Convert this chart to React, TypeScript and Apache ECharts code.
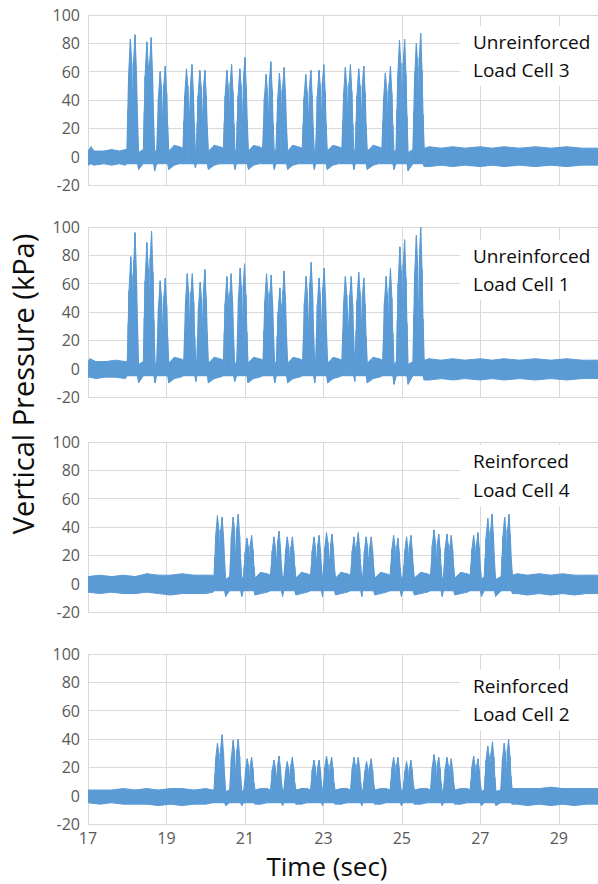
import React, { useEffect, useRef } from "react";
import * as echarts from "echarts";

// ---------- data ----------
const xTickValues = [17, 19, 21, 23, 25, 27, 29];
const xMin = 17;
const xMax = 30;
const yMin = -20;
const yMax = 100;
const yStep = 20;

const xTitle = "Time (sec)";
const yTitle = "Vertical Pressure (kPa)";

const panelTitles = [
  ["Unreinforced", "Load Cell 3"],
  ["Unreinforced", "Load Cell 1"],
  ["Reinforced", "Load Cell 4"],
  ["Reinforced", "Load Cell 2"],
];

// rows: [time (s), lower envelope (kPa), upper envelope (kPa)]
const cell3: number[][] = [
  [17.0, -6, 4], [17.08, -5, 7], [17.15, -6, 4], [17.4, -5, 4], [17.6, -6, 5], [17.8, -5, 4], [17.95, -6, 5],
  [17.99, -5, 5], [18.015, -5, 33], [18.035, -5, 58], [18.08, -5, 83], [18.115, -5, 66], [18.14, -5, 28], [18.165, -5, 69], [18.2, -5, 86], [18.235, -5, 60], [18.26, -5, 30], [18.29, -9, 3],
  [18.41, -5, 5], [18.435, -5, 32], [18.455, -5, 57], [18.5, -5, 81], [18.535, -5, 65], [18.555, -5, 28], [18.575, -5, 67], [18.61, -5, 84], [18.645, -5, 59], [18.67, -5, 29], [18.7, -10, 3],
  [18.75, -5, 5], [18.775, -5, 24], [18.795, -5, 42], [18.84, -5, 60], [18.875, -5, 48], [18.905, -5, 22], [18.935, -5, 51], [18.97, -5, 64], [19.005, -5, 45], [19.03, -5, 22], [19.06, -9, 4],
  [19.2, -6, 8], [19.33, -5, 7],
  [19.42, -5, 6], [19.445, -5, 25], [19.465, -5, 43], [19.51, -5, 62], [19.545, -5, 50], [19.58, -5, 22], [19.615, -5, 52], [19.65, -5, 65], [19.685, -5, 46], [19.71, -5, 23], [19.74, -8, 3],
  [19.76, -5, 5], [19.785, -5, 24], [19.805, -5, 43], [19.85, -5, 61], [19.885, -5, 49], [19.915, -5, 22], [19.945, -5, 49], [19.98, -5, 61], [20.015, -5, 43], [20.04, -5, 21], [20.07, -9, 4],
  [20.22, -6, 8], [20.36, -5, 7],
  [20.45, -5, 6], [20.475, -5, 24], [20.495, -5, 43], [20.54, -5, 61], [20.575, -5, 49], [20.6, -5, 22], [20.625, -5, 52], [20.66, -5, 65], [20.695, -5, 46], [20.72, -5, 23], [20.75, -9, 3],
  [20.78, -5, 5], [20.805, -5, 25], [20.825, -5, 43], [20.87, -5, 62], [20.905, -5, 50], [20.935, -5, 22], [20.965, -5, 56], [21.0, -5, 70], [21.035, -5, 49], [21.06, -5, 25], [21.09, -9, 4],
  [21.22, -6, 8], [21.36, -5, 7],
  [21.45, -5, 6], [21.475, -5, 23], [21.495, -5, 41], [21.54, -5, 58], [21.575, -5, 46], [21.6, -5, 22], [21.625, -5, 54], [21.66, -5, 67], [21.695, -5, 47], [21.72, -5, 23], [21.75, -9, 3],
  [21.79, -5, 5], [21.815, -5, 24], [21.835, -5, 41], [21.88, -5, 59], [21.915, -5, 47], [21.94, -5, 22], [21.965, -5, 50], [22.0, -5, 63], [22.035, -5, 44], [22.06, -5, 22], [22.09, -9, 4],
  [22.22, -6, 8], [22.36, -5, 7],
  [22.46, -5, 6], [22.485, -5, 23], [22.505, -5, 41], [22.55, -5, 58], [22.585, -5, 46], [22.615, -5, 22], [22.645, -5, 49], [22.68, -5, 61], [22.715, -5, 43], [22.74, -5, 21], [22.77, -9, 3],
  [22.8, -5, 5], [22.825, -5, 24], [22.845, -5, 43], [22.89, -5, 61], [22.925, -5, 49], [22.95, -5, 22], [22.975, -5, 52], [23.01, -5, 65], [23.045, -5, 46], [23.07, -5, 23], [23.1, -9, 4],
  [23.24, -6, 8], [23.38, -5, 7],
  [23.47, -5, 6], [23.495, -5, 25], [23.515, -5, 44], [23.56, -5, 63], [23.595, -5, 50], [23.625, -5, 22], [23.655, -5, 52], [23.69, -5, 65], [23.725, -5, 46], [23.75, -5, 23], [23.78, -9, 3],
  [23.81, -5, 5], [23.835, -5, 25], [23.855, -5, 43], [23.9, -5, 62], [23.935, -5, 50], [23.965, -5, 22], [23.995, -5, 51], [24.03, -5, 64], [24.065, -5, 45], [24.09, -5, 22], [24.12, -9, 4],
  [24.27, -6, 8], [24.4, -5, 7],
  [24.49, -5, 6], [24.515, -5, 24], [24.535, -5, 41], [24.58, -5, 59], [24.615, -5, 47], [24.645, -5, 22], [24.675, -5, 51], [24.71, -5, 64], [24.745, -5, 45], [24.77, -5, 22], [24.8, -9, 3],
  [24.85, -5, 5], [24.875, -5, 33], [24.895, -5, 57], [24.94, -5, 82], [24.975, -5, 66], [25.005, -5, 28], [25.035, -5, 66], [25.07, -5, 83], [25.105, -5, 58], [25.13, -5, 29], [25.16, -10, 3],
  [25.28, -5, 5], [25.305, -5, 32], [25.325, -5, 56], [25.37, -5, 80], [25.405, -5, 64], [25.425, -5, 28], [25.445, -5, 70], [25.48, -5, 87], [25.515, -5, 61], [25.54, -5, 30], [25.57, -7, 6],
  [25.7, -7, 7], [26.0, -6, 6], [26.3, -7, 7], [26.6, -6, 6], [27.0, -7, 7], [27.3, -6, 6], [27.6, -7, 7], [28.0, -6, 6],
  [28.4, -7, 7], [28.8, -6, 6], [29.2, -7, 7], [29.6, -6, 6], [30.0, -6, 6],
];

const cell1: number[][] = [
  [17.0, -6, 5], [17.05, -6, 7], [17.2, -7, 5], [17.45, -6, 5], [17.7, -6, 6], [17.95, -7, 5],
  [18.0, -5, 5], [18.025, -5, 32], [18.045, -5, 55], [18.09, -5, 79], [18.12, -5, 66], [18.145, -5, 30], [18.17, -5, 77], [18.2, -5, 96], [18.235, -5, 67], [18.26, -5, 34], [18.29, -10, 3],
  [18.41, -5, 5], [18.435, -5, 36], [18.455, -5, 62], [18.5, -5, 89], [18.535, -5, 71], [18.56, -5, 30], [18.585, -5, 78], [18.62, -5, 97], [18.655, -5, 68], [18.68, -5, 34], [18.71, -10, 3],
  [18.75, -5, 5], [18.775, -5, 25], [18.795, -5, 43], [18.84, -5, 62], [18.875, -5, 50], [18.905, -5, 23], [18.935, -5, 51], [18.97, -5, 64], [19.005, -5, 45], [19.03, -5, 22], [19.06, -10, 4],
  [19.2, -7, 8], [19.35, -6, 7],
  [19.44, -5, 6], [19.465, -5, 27], [19.485, -5, 47], [19.53, -5, 67], [19.565, -5, 54], [19.595, -5, 24], [19.625, -5, 54], [19.66, -5, 67], [19.695, -5, 47], [19.72, -5, 23], [19.75, -9, 3],
  [19.77, -5, 5], [19.795, -5, 24], [19.815, -5, 43], [19.86, -5, 61], [19.895, -5, 49], [19.92, -5, 24], [19.945, -5, 56], [19.98, -5, 70], [20.015, -5, 49], [20.04, -5, 25], [20.07, -10, 4],
  [20.22, -7, 8], [20.36, -6, 7],
  [20.45, -5, 6], [20.475, -5, 26], [20.495, -5, 46], [20.54, -5, 65], [20.57, -5, 52], [20.595, -5, 24], [20.62, -5, 54], [20.65, -5, 67], [20.685, -5, 47], [20.71, -5, 23], [20.74, -9, 3],
  [20.79, -5, 5], [20.815, -5, 28], [20.835, -5, 50], [20.88, -5, 71], [20.91, -5, 57], [20.935, -5, 25], [20.96, -5, 59], [20.99, -5, 74], [21.025, -5, 52], [21.05, -5, 26], [21.08, -10, 4],
  [21.22, -7, 8], [21.37, -6, 7],
  [21.46, -5, 6], [21.485, -5, 27], [21.505, -5, 47], [21.55, -5, 67], [21.585, -5, 54], [21.61, -5, 24], [21.635, -5, 53], [21.67, -5, 66], [21.705, -5, 46], [21.73, -5, 23], [21.76, -10, 3],
  [21.8, -5, 5], [21.825, -5, 23], [21.845, -5, 40], [21.89, -5, 57], [21.92, -5, 46], [21.945, -5, 23], [21.97, -5, 55], [22.0, -5, 69], [22.035, -5, 48], [22.06, -5, 24], [22.09, -10, 4],
  [22.23, -7, 8], [22.38, -6, 7],
  [22.47, -5, 6], [22.495, -5, 26], [22.515, -5, 46], [22.56, -5, 65], [22.595, -5, 52], [22.625, -5, 24], [22.655, -5, 60], [22.69, -5, 75], [22.725, -5, 53], [22.75, -5, 26], [22.78, -10, 3],
  [22.8, -5, 5], [22.825, -5, 26], [22.845, -5, 45], [22.89, -5, 64], [22.925, -5, 51], [22.955, -5, 24], [22.985, -5, 57], [23.02, -5, 71], [23.055, -5, 50], [23.08, -5, 25], [23.11, -10, 4],
  [23.25, -7, 8], [23.38, -6, 7],
  [23.47, -5, 6], [23.495, -5, 26], [23.515, -5, 46], [23.56, -5, 65], [23.595, -5, 52], [23.635, -5, 24], [23.675, -5, 52], [23.71, -5, 65], [23.745, -5, 46], [23.77, -5, 23], [23.8, -9, 3],
  [23.81, -5, 5], [23.835, -5, 27], [23.855, -5, 48], [23.9, -5, 68], [23.935, -5, 54], [23.965, -5, 24], [23.995, -5, 51], [24.03, -5, 64], [24.065, -5, 45], [24.09, -5, 22], [24.12, -10, 4],
  [24.27, -7, 8], [24.42, -6, 7],
  [24.51, -5, 6], [24.535, -5, 26], [24.555, -5, 46], [24.6, -5, 65], [24.63, -5, 52], [24.655, -5, 24], [24.68, -5, 57], [24.71, -5, 71], [24.745, -5, 50], [24.77, -5, 25], [24.8, -11, 3],
  [24.86, -5, 5], [24.885, -5, 34], [24.905, -5, 60], [24.95, -5, 86], [24.985, -5, 69], [25.01, -5, 30], [25.035, -5, 73], [25.07, -5, 91], [25.105, -5, 64], [25.13, -5, 32], [25.16, -11, 3],
  [25.28, -5, 5], [25.305, -5, 38], [25.325, -5, 66], [25.37, -5, 94], [25.4, -5, 75], [25.425, -5, 30], [25.45, -5, 80], [25.48, -5, 100], [25.515, -5, 70], [25.54, -5, 35], [25.57, -8, 6],
  [25.7, -8, 7], [26.0, -7, 6], [26.3, -8, 7], [26.6, -7, 6], [27.0, -8, 7], [27.3, -7, 6], [27.6, -8, 7], [28.0, -7, 6],
  [28.4, -8, 7], [28.8, -7, 6], [29.2, -8, 7], [29.6, -7, 6], [30.0, -7, 6],
];

const cell4: number[][] = [
  [17.0, -6, 5], [17.3, -7, 6], [17.6, -6, 5], [17.9, -7, 6], [18.2, -7, 5], [18.5, -6, 7], [18.8, -7, 6], [19.1, -8, 6],
  [19.4, -7, 7], [19.7, -7, 6], [20.0, -7, 6], [20.18, -6, 6],
  [20.21, -5, 5], [20.235, -5, 19], [20.255, -5, 34], [20.3, -5, 48], [20.335, -5, 38], [20.36, -5, 15], [20.385, -5, 38], [20.42, -5, 47], [20.455, -5, 33], [20.48, -5, 17], [20.51, -9, 3],
  [20.61, -5, 5], [20.635, -5, 19], [20.655, -5, 33], [20.7, -5, 47], [20.735, -5, 38], [20.765, -5, 15], [20.795, -5, 39], [20.83, -5, 49], [20.865, -5, 34], [20.89, -5, 17], [20.92, -9, 3],
  [20.96, -5, 5], [20.985, -5, 13], [21.005, -5, 22], [21.05, -5, 32], [21.085, -5, 26], [21.11, -5, 13], [21.135, -5, 27], [21.17, -5, 34], [21.205, -5, 24], [21.23, -5, 12], [21.26, -8, 4],
  [21.4, -7, 8], [21.56, -6, 7],
  [21.65, -5, 6], [21.675, -5, 13], [21.695, -5, 23], [21.74, -5, 33], [21.775, -5, 26], [21.805, -5, 13], [21.835, -5, 30], [21.87, -5, 37], [21.905, -5, 26], [21.93, -5, 13], [21.96, -9, 3],
  [21.99, -5, 5], [22.015, -5, 13], [22.035, -5, 23], [22.08, -5, 33], [22.115, -5, 26], [22.145, -5, 13], [22.175, -5, 26], [22.21, -5, 33], [22.245, -5, 23], [22.27, -5, 12], [22.3, -8, 4],
  [22.44, -7, 8], [22.58, -6, 7],
  [22.67, -5, 6], [22.695, -5, 13], [22.715, -5, 23], [22.76, -5, 33], [22.795, -5, 26], [22.825, -5, 13], [22.855, -5, 27], [22.89, -5, 34], [22.925, -5, 24], [22.95, -5, 12], [22.98, -9, 3],
  [22.99, -5, 5], [23.015, -5, 14], [23.035, -5, 25], [23.08, -5, 36], [23.115, -5, 29], [23.15, -5, 13], [23.185, -5, 28], [23.22, -5, 35], [23.255, -5, 25], [23.28, -5, 12], [23.31, -8, 4],
  [23.45, -7, 8], [23.6, -6, 7],
  [23.69, -5, 6], [23.715, -5, 13], [23.735, -5, 23], [23.78, -5, 33], [23.81, -5, 26], [23.835, -5, 13], [23.86, -5, 29], [23.89, -5, 36], [23.925, -5, 25], [23.95, -5, 13], [23.98, -9, 3],
  [24.0, -5, 5], [24.025, -5, 13], [24.045, -5, 23], [24.09, -5, 33], [24.125, -5, 26], [24.155, -5, 13], [24.185, -5, 26], [24.22, -5, 33], [24.255, -5, 23], [24.28, -5, 12], [24.31, -8, 4],
  [24.46, -7, 8], [24.6, -6, 7],
  [24.7, -5, 6], [24.725, -5, 14], [24.745, -5, 24], [24.79, -5, 34], [24.82, -5, 27], [24.845, -5, 13], [24.87, -5, 26], [24.9, -5, 32], [24.935, -5, 22], [24.96, -5, 11], [24.99, -9, 3],
  [25.03, -5, 5], [25.055, -5, 13], [25.075, -5, 23], [25.12, -5, 33], [25.15, -5, 26], [25.175, -5, 13], [25.2, -5, 27], [25.23, -5, 34], [25.265, -5, 24], [25.29, -5, 12], [25.32, -8, 4],
  [25.48, -7, 8], [25.64, -6, 7],
  [25.73, -5, 6], [25.755, -5, 15], [25.775, -5, 27], [25.82, -5, 38], [25.855, -5, 30], [25.88, -5, 13], [25.905, -5, 28], [25.94, -5, 35], [25.975, -5, 25], [26.0, -5, 12], [26.03, -9, 3],
  [26.06, -5, 5], [26.085, -5, 14], [26.105, -5, 25], [26.15, -5, 35], [26.18, -5, 28], [26.205, -5, 13], [26.23, -5, 27], [26.26, -5, 34], [26.295, -5, 24], [26.32, -5, 12], [26.35, -8, 4],
  [26.5, -7, 8], [26.66, -6, 7],
  [26.74, -5, 6], [26.765, -5, 14], [26.785, -5, 24], [26.83, -5, 34], [26.86, -5, 27], [26.885, -5, 13], [26.91, -5, 29], [26.94, -5, 36], [26.975, -5, 25], [27.0, -5, 13], [27.03, -9, 3],
  [27.1, -5, 5], [27.125, -5, 18], [27.145, -5, 32], [27.19, -5, 46], [27.22, -5, 37], [27.245, -5, 15], [27.27, -5, 39], [27.3, -5, 49], [27.335, -5, 34], [27.36, -5, 17], [27.39, -9, 3],
  [27.53, -5, 5], [27.555, -5, 19], [27.575, -5, 33], [27.62, -5, 47], [27.65, -5, 38], [27.675, -5, 15], [27.7, -5, 39], [27.73, -5, 49], [27.765, -5, 34], [27.79, -5, 17], [27.82, -7, 6],
  [27.95, -7, 7], [28.2, -8, 6], [28.5, -7, 7], [28.8, -8, 6], [29.1, -7, 7], [29.4, -8, 6], [29.7, -7, 6], [30.0, -7, 6],
];

const cell2: number[][] = [
  [17.0, -5, 4], [17.3, -6, 4], [17.6, -5, 4], [17.9, -6, 5], [18.2, -6, 4], [18.5, -6, 5], [18.8, -7, 4], [19.1, -6, 5],
  [19.4, -7, 5], [19.7, -6, 4], [20.0, -6, 5], [20.18, -5, 4],
  [20.21, -5, 4], [20.235, -5, 15], [20.255, -5, 26], [20.3, -5, 37], [20.335, -5, 30], [20.36, -5, 12], [20.385, -5, 34], [20.42, -5, 43], [20.455, -5, 30], [20.48, -5, 15], [20.51, -7, 3],
  [20.61, -5, 4], [20.635, -5, 16], [20.655, -5, 27], [20.7, -5, 39], [20.735, -5, 31], [20.765, -5, 12], [20.795, -5, 32], [20.83, -5, 40], [20.865, -5, 28], [20.89, -5, 14], [20.92, -7, 3],
  [20.97, -5, 4], [20.995, -5, 10], [21.015, -5, 18], [21.06, -5, 26], [21.09, -5, 21], [21.115, -5, 10], [21.14, -5, 22], [21.17, -5, 27], [21.205, -5, 19], [21.23, -5, 9], [21.26, -6, 4],
  [21.4, -6, 5], [21.56, -5, 5],
  [21.65, -5, 4], [21.675, -5, 10], [21.695, -5, 18], [21.74, -5, 25], [21.775, -5, 20], [21.805, -5, 10], [21.835, -5, 22], [21.87, -5, 28], [21.905, -5, 20], [21.93, -5, 10], [21.96, -7, 3],
  [21.99, -5, 4], [22.015, -5, 10], [22.035, -5, 17], [22.08, -5, 24], [22.115, -5, 19], [22.145, -5, 10], [22.175, -5, 22], [22.21, -5, 27], [22.245, -5, 19], [22.27, -5, 9], [22.3, -6, 4],
  [22.44, -6, 5], [22.58, -5, 5],
  [22.67, -5, 4], [22.695, -5, 10], [22.715, -5, 18], [22.76, -5, 25], [22.795, -5, 20], [22.825, -5, 10], [22.855, -5, 20], [22.89, -5, 25], [22.925, -5, 18], [22.95, -5, 9], [22.98, -7, 3],
  [22.99, -5, 4], [23.015, -5, 11], [23.035, -5, 20], [23.08, -5, 28], [23.115, -5, 22], [23.145, -5, 10], [23.175, -5, 22], [23.21, -5, 27], [23.245, -5, 19], [23.27, -5, 9], [23.3, -6, 4],
  [23.45, -6, 5], [23.6, -5, 5],
  [23.69, -5, 4], [23.715, -5, 11], [23.735, -5, 19], [23.78, -5, 27], [23.81, -5, 22], [23.835, -5, 10], [23.86, -5, 22], [23.89, -5, 27], [23.925, -5, 19], [23.95, -5, 9], [23.98, -7, 3],
  [24.01, -5, 4], [24.035, -5, 10], [24.055, -5, 17], [24.1, -5, 24], [24.135, -5, 19], [24.16, -5, 10], [24.185, -5, 21], [24.22, -5, 26], [24.255, -5, 18], [24.28, -5, 9], [24.31, -6, 4],
  [24.46, -6, 5], [24.6, -5, 5],
  [24.7, -5, 4], [24.725, -5, 11], [24.745, -5, 19], [24.79, -5, 27], [24.82, -5, 22], [24.845, -5, 10], [24.87, -5, 22], [24.9, -5, 27], [24.935, -5, 19], [24.96, -5, 9], [24.99, -7, 3],
  [25.03, -5, 4], [25.055, -5, 10], [25.075, -5, 17], [25.12, -5, 24], [25.15, -5, 19], [25.175, -5, 10], [25.2, -5, 20], [25.23, -5, 25], [25.265, -5, 18], [25.29, -5, 9], [25.32, -6, 4],
  [25.48, -6, 5], [25.64, -5, 5],
  [25.73, -5, 4], [25.755, -5, 12], [25.775, -5, 20], [25.82, -5, 29], [25.855, -5, 23], [25.88, -5, 10], [25.905, -5, 22], [25.94, -5, 27], [25.975, -5, 19], [26.0, -5, 9], [26.03, -7, 3],
  [26.06, -5, 4], [26.085, -5, 11], [26.105, -5, 19], [26.15, -5, 27], [26.18, -5, 22], [26.205, -5, 10], [26.23, -5, 21], [26.26, -5, 26], [26.295, -5, 18], [26.32, -5, 9], [26.35, -6, 4],
  [26.5, -6, 5], [26.66, -5, 5],
  [26.74, -5, 4], [26.765, -5, 11], [26.785, -5, 20], [26.83, -5, 28], [26.86, -5, 22], [26.885, -5, 10], [26.91, -5, 21], [26.94, -5, 26], [26.975, -5, 18], [27.0, -5, 9], [27.03, -7, 3],
  [27.1, -5, 4], [27.125, -5, 14], [27.145, -5, 25], [27.19, -5, 35], [27.225, -5, 28], [27.25, -5, 11], [27.275, -5, 30], [27.31, -5, 38], [27.345, -5, 27], [27.37, -5, 13], [27.4, -7, 3],
  [27.52, -5, 4], [27.545, -5, 15], [27.565, -5, 26], [27.61, -5, 37], [27.64, -5, 30], [27.665, -5, 12], [27.69, -5, 32], [27.72, -5, 40], [27.755, -5, 28], [27.78, -5, 14], [27.81, -6, 5],
  [27.95, -6, 5], [28.2, -7, 5], [28.5, -6, 5], [28.8, -7, 6], [29.1, -6, 5], [29.4, -7, 5], [29.7, -6, 5], [30.0, -6, 5],
];

const panelData = [cell3, cell1, cell4, cell2];

// ---------- layout & style ----------
const W = 598;
const H = 884;
const gridLeft = 88;
const gridTops = [15, 227, 442, 654];
const gridHeight = 170;
const titleLineY = [
  [42, 70],
  [256, 284],
  [461, 490],
  [686, 714],
];
const blue = "#5b9bd5";
const gridColor = "#d9d9d9";
const tickColor = "#595959";
const font = "'Open Sans', 'Noto Sans', sans-serif";

export default function App() {
  const ref = useRef<HTMLDivElement>(null);

  useEffect(() => {
    if (!ref.current) return;
    const chart = echarts.init(ref.current, undefined, { renderer: "svg" });

    const grid = gridTops.map((top) => ({
      left: gridLeft,
      right: 0,
      top,
      height: gridHeight,
      containLabel: false,
    }));

    const xAxis = gridTops.map((_, i) => ({
      type: "value",
      gridIndex: i,
      min: xMin,
      max: xMax,
      axisLine: { show: false },
      axisTick: { show: false, customValues: xTickValues },
      axisLabel: {
        show: i === gridTops.length - 1,
        customValues: xTickValues,
        color: tickColor,
        fontSize: 16,
        fontFamily: font,
        margin: 6,
      },
      splitLine: { show: true, lineStyle: { color: gridColor, width: 1 } },
    }));

    const yAxis = gridTops.map((_, i) => ({
      type: "value",
      gridIndex: i,
      min: yMin,
      max: yMax,
      interval: yStep,
      axisLine: { show: false },
      axisTick: { show: false },
      axisLabel: { color: tickColor, fontSize: 16, fontFamily: font, margin: 8 },
      splitLine: { show: true, lineStyle: { color: gridColor, width: 1 } },
    }));

    // each item draws the band segment between its row and the next one
    const series: any[] = panelData.map((rows, p) => ({
      type: "custom",
      xAxisIndex: p,
      yAxisIndex: p,
      clip: true,
      silent: true,
      encode: { x: 0, y: [1, 2] },
      data: rows,
      renderItem: (params: any, api: any) => {
        const i = params.dataIndex;
        if (i >= rows.length - 1) return null;
        const t0 = api.value(0);
        const lo0 = api.value(1);
        const hi0 = api.value(2);
        const next = rows[i + 1];
        const points = [
          api.coord([t0, lo0]),
          api.coord([next[0], next[1]]),
          api.coord([next[0], next[2]]),
          api.coord([t0, hi0]),
        ];
        return {
          type: "polygon",
          shape: { points },
          style: { fill: blue, stroke: blue, lineWidth: 1, lineJoin: "round" },
        };
      },
    }));

    const graphic: any[] = [];
    panelTitles.forEach((lines, i) => {
      const [y1, y2] = titleLineY[i];
      graphic.push({
        type: "rect",
        z: 50,
        shape: { x: 460, y: y1 - 16, width: W - 460, height: y2 - y1 + 32 },
        style: { fill: "#ffffff" },
        silent: true,
      });
      lines.forEach((t, k) => {
        graphic.push({
          type: "text",
          z: 51,
          x: 473,
          y: k === 0 ? y1 : y2,
          style: {
            text: t,
            fill: "#0d0d0d",
            font: `19px ${font}`,
            textAlign: "left",
            textVerticalAlign: "middle",
          },
          silent: true,
        });
      });
    });
    graphic.push({
      type: "text",
      x: 327,
      y: 866,
      style: {
        text: xTitle,
        fill: "#0d0d0d",
        font: `26px ${font}`,
        textAlign: "center",
        textVerticalAlign: "middle",
      },
      silent: true,
    });
    graphic.push({
      type: "text",
      x: 22,
      y: 384,
      rotation: Math.PI / 2,
      style: {
        text: yTitle,
        fill: "#0d0d0d",
        font: `29px ${font}`,
        textAlign: "center",
        textVerticalAlign: "middle",
      },
      silent: true,
    });

    chart.setOption({
      animation: false,
      backgroundColor: "#ffffff",
      grid,
      xAxis,
      yAxis,
      series,
      graphic,
    });

    return () => chart.dispose();
  }, []);

  return (
    <div
      ref={ref}
      style={{ position: "absolute", left: 0, top: 0, width: W, height: H }}
    />
  );
}
